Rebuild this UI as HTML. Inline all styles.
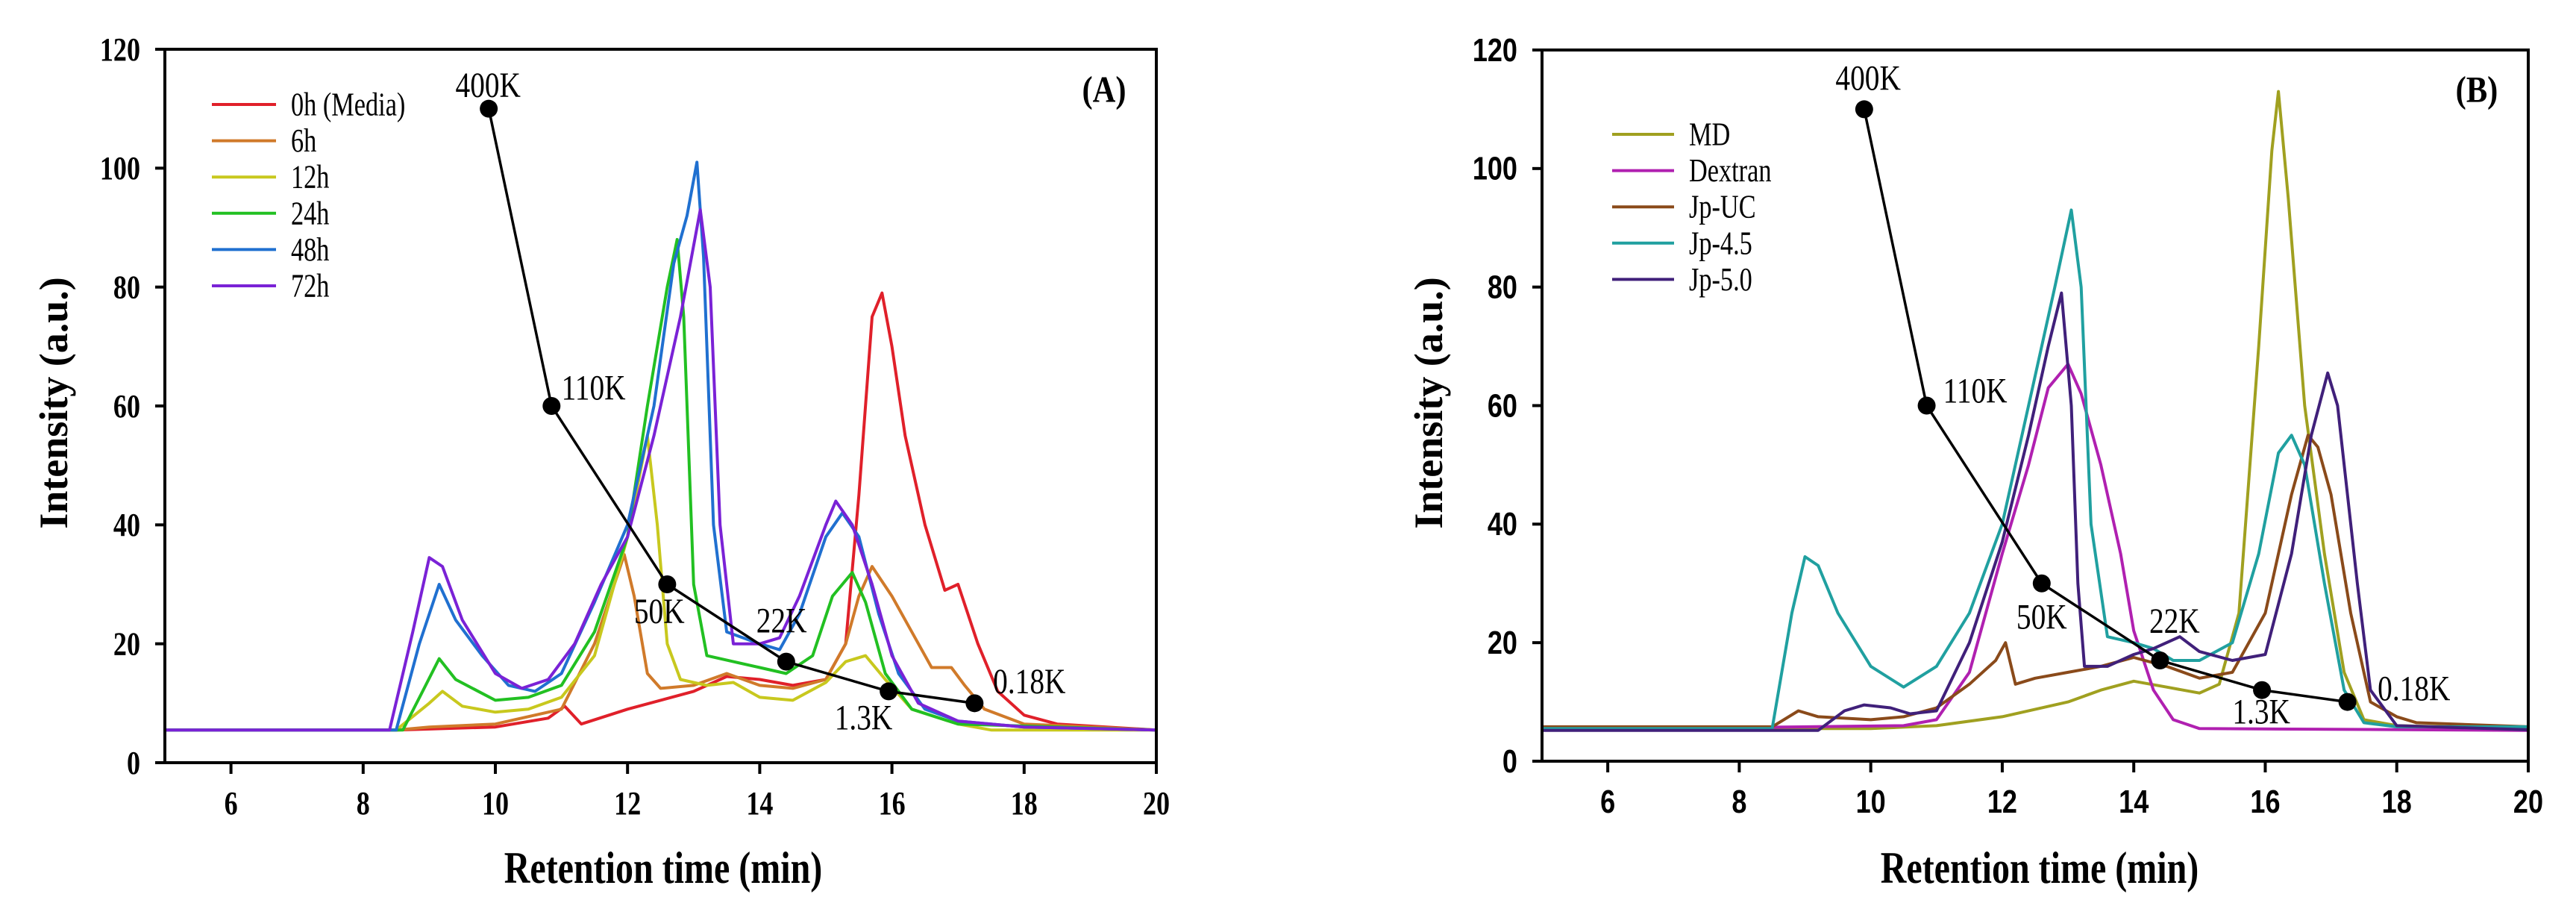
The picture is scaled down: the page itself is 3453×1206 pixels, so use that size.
<!DOCTYPE html>
<html><head><meta charset="utf-8"><style>html,body{margin:0;padding:0;background:#fff}svg{display:block}</style></head>
<body>
<svg id="fig" width="3453" height="1206" viewBox="0 0 3453 1206" xmlns="http://www.w3.org/2000/svg"></svg>
<script>
// ===== Data: panel A =====
const xTicks = [6, 8, 10, 12, 14, 16, 18, 20];
const yTicks = [0, 20, 40, 60, 80, 100, 120];
const aNames = ["0h (Media)", "6h", "12h", "24h", "48h", "72h"];
const a0hT = [5,8.5,10,10.8,11.05,11.3,12,13,13.5,14,14.5,15,15.3,15.5,15.7,15.85,16,16.2,16.5,16.8,17,17.3,17.6,18,18.5,20];
const a0hV = [5.5,5.5,6,7.5,9.5,6.5,9,12,14.5,14,13,14,20,45,75,79,70,55,40,29,30,20,12,8,6.5,5.5];
const a6hT = [5,8.5,9,10,11,11.5,11.8,11.95,12.1,12.3,12.5,13,13.5,14,14.5,15,15.3,15.5,15.7,16,16.3,16.6,16.9,17.1,17.4,18,20];
const a6hV = [5.5,5.5,6,6.5,9,20,30,35,28,15,12.5,13,15,13,12.5,14,20,28,33,28,22,16,16,13,9,6.5,5.5];
const a12hT = [5,8.5,9,9.2,9.5,10,10.5,11,11.5,12,12.3,12.45,12.6,12.8,13.2,13.6,14,14.5,15,15.3,15.6,15.9,16.3,17,17.5,20];
const a12hV = [5.5,5.5,10,12,9.5,8.5,9,11,18,38,55,40,20,14,13,13.5,11,10.5,13.5,17,18,14,9,6.5,5.5,5.5];
const a24hT = [5,8.6,8.9,9.15,9.4,10,10.5,11,11.5,12,12.3,12.6,12.75,12.85,13,13.2,13.6,14,14.4,14.8,15.1,15.4,15.6,15.9,16.3,17,20];
const a24hV = [5.5,5.5,12,17.5,14,10.5,11,13,22,38,60,80,88,75,30,18,17,16,15,18,28,32,27,15,9,6.5,5.5];
const a48hT = [5,8.5,8.85,9.15,9.4,9.8,10.2,10.6,11,11.5,12,12.4,12.7,12.9,13.05,13.15,13.3,13.5,14,14.3,14.6,15,15.25,15.5,15.8,16.1,16.5,17,18,20];
const a48hV = [5.5,5.5,20,30,24,18,13,12,15,27,40,60,84,92,101,85,40,22,20,19,25,38,42,38,25,15,9,7,6,5.5];
const a72hT = [5,8.4,8.75,9,9.2,9.5,10,10.4,10.8,11.2,11.6,12,12.4,12.8,13.1,13.25,13.4,13.6,14,14.3,14.6,15,15.15,15.4,15.7,16,16.4,17,18,20];
const a72hV = [5.5,5.5,22,34.5,33,24,15,12.5,14,20,30,38,55,75,93,80,40,20,20,21,28,40,44,40,30,18,10,7,6,5.5];
// ===== Data: panel B =====
const bNames = ["MD", "Dextran", "Jp-UC", "Jp-4.5", "Jp-5.0"];
const bMDT = [5,10,11,12,13,13.5,14,14.5,15,15.3,15.6,15.9,16.1,16.2,16.35,16.6,16.9,17.2,17.5,18,20];
const bMDV = [5.5,5.5,6,7.5,10,12,13.5,12.5,11.5,13,25,70,103,113,95,60,35,15,7,6,5.5];
const bDexT = [5,10.5,11,11.5,12,12.4,12.7,13,13.2,13.5,13.8,14,14.3,14.6,15,20];
const bDexV = [5.3,6,7,15,35,50,63,67,62,50,35,22,12,7,5.5,5.2];
const bUCT = [5,8.5,8.9,9.2,10,10.5,11,11.5,11.9,12.05,12.2,12.5,13,13.5,14,14.5,15,15.5,16,16.4,16.65,16.8,17,17.3,17.6,18,18.3,20];
const bUCV = [5.8,5.8,8.5,7.5,7,7.5,9,13,17,20,13,14,15,16,17.5,16,14,15,25,45,55,53,45,25,10,7.5,6.5,5.8];
const b45T = [5,8.5,8.8,9,9.2,9.5,10,10.5,11,11.5,12,12.5,12.8,13.05,13.2,13.35,13.6,14,14.3,14.6,15,15.5,15.9,16.2,16.4,16.6,16.9,17.2,17.5,18,20];
const b45V = [5.5,5.5,25,34.5,33,25,16,12.5,16,25,40,65,80,93,80,40,21,20,19,17,17,20,35,52,55,50,30,12,6.5,5.8,5.8];
const b50T = [5,9.2,9.6,9.9,10.3,10.6,11,11.5,12,12.4,12.7,12.9,13.05,13.15,13.25,13.6,14,14.3,14.7,15,15.5,16,16.4,16.7,16.95,17.1,17.4,17.6,18,20];
const b50V = [5.2,5.2,8.5,9.5,9,8,8.5,20,37,55,70,79,60,30,16,16,18,19,21,18.5,17,18,35,55,65.5,60,30,12,6,5.3];
// MW calibration markers (same for both panels)
const mwT = [9.9, 10.85, 12.6, 14.4, 15.95, 17.25];
const mwV = [110, 60, 30, 17, 12, 10];
const mwLabels = ["400K", "110K", "50K", "22K", "1.3K", "0.18K"];
const mwLabelAT = [9.89, 11.0, 12.48, 14.33, 15.57, 17.53];
const mwLabelAV = [113.9, 63, 25.4, 23.8, 7.5, 13.6];
const mwLabelBT = [9.96, 11.1, 12.6, 14.62, 15.94, 17.71];
const mwLabelBV = [115.2, 62.4, 24.3, 23.6, 8.3, 12.2];

const NS = "http://www.w3.org/2000/svg";
const svg = document.getElementById("fig");
function el(tag, attrs, parent) {
  const e = document.createElementNS(NS, tag);
  for (const k in attrs) e.setAttribute(k, attrs[k]);
  (parent || svg).appendChild(e);
  return e;
}
function txt(str, x, y, size, opts, parent) {
  const sx = opts.sx || 0.8;
  const t = el("text", {
    x: 0, y: 0,
    transform: "translate(" + x + "," + y + ")" + (opts.rot ? " rotate(" + opts.rot + ")" : "") + " scale(" + sx + ",1)",
    "font-size": size,
    "font-family": opts.family || '"Liberation Serif", serif',
    "font-weight": opts.bold ? "bold" : "normal",
    "text-anchor": opts.anchor || "start",
    "dominant-baseline": "central",
    fill: "#000"
  }, parent);
  t.textContent = str;
  return t;
}

function panel(cfg) {
  const g = el("g", {});
  
  
  const L = cfg.left, R = cfg.right, T = cfg.top, B = cfg.bottom;
  const X = v => L + (v - 5) / 15 * (R - L);
  const Y = v => B - v / 120 * (B - T);
  cfg.series.forEach((s, i) => {
    const pts = s.t.map((t, j) => X(t).toFixed(1) + "," + Y(s.v[j]).toFixed(1)).join(" ");
    const p = el("polyline", {points: pts, fill: "none", stroke: s.color, "stroke-width": 4, "stroke-linejoin": "round"}, g);
    
    
  });
  const mwPts = mwT.map((t, j) => X(t) + "," + Y(mwV[j])).join(" ");
  const ml = el("polyline", {points: mwPts, fill: "none", stroke: "#000", "stroke-width": 3.5}, g);
  
  
  mwT.forEach((t, j) => {
    const c = el("circle", {cx: X(t), cy: Y(mwV[j]), r: 12, fill: "#000"}, g);
    
    
    const anchor = (j === 1 || j === 5) ? "start" : "middle";
    const lt = txt(mwLabels[j], X(cfg.lt[j]), Y(cfg.lv[j]), 48, {anchor: anchor, sx: 0.82}, g);
    
    
  });
  const fr = el("rect", {x: L, y: T, width: R - L, height: B - T, fill: "none", stroke: "#000", "stroke-width": 4}, g);
  
  
  xTicks.forEach(v => {
    const tk = el("line", {x1: X(v), x2: X(v), y1: B, y2: B + 15, stroke: "#000", "stroke-width": 4}, g);
    
    
    const tl = txt(String(v), X(v), B + 54, 44, {anchor: "middle", bold: true, family: cfg.tickFamily, sx: 0.82}, g);
    
    
  });
  yTicks.forEach(v => {
    const tk = el("line", {x1: L - 13, x2: L, y1: Y(v), y2: Y(v), stroke: "#000", "stroke-width": 4}, g);
    
    
    const tl = txt(String(v), L - 33, Y(v), 44, {anchor: "end", bold: true, family: cfg.tickFamily, sx: 0.82}, g);
    
    
  });
  const xt = txt("Retention time (min)", cfg.xTitleX, 1163, 60, {anchor: "middle", bold: true, sx: 0.8}, g);
  
  
  const yt = txt("Intensity (a.u.)", cfg.yTitleX, 540, 54, {anchor: "middle", bold: true, rot: -90, sx: 1}, g);
  
  
  const pl = txt(cfg.label, cfg.labelX, 121, 50, {anchor: "middle", bold: true, sx: 0.85}, g);
  
  
  cfg.series.forEach((s, i) => {
    const y = cfg.legY + i * cfg.legStep;
    const ln = el("line", {x1: cfg.legX1, x2: cfg.legX2, y1: y, y2: y, stroke: s.color, "stroke-width": 4}, g);
    
    
    const lt = txt(s.label, cfg.legX2 + 20, y, 44, {sx: 0.78}, g);
    
    
  });
}

panel({
  name: "panel-a", left: 221, right: 1550, top: 66, bottom: 1022,
  tickFamily: '"Liberation Serif", serif', label: "(A)", labelX: 1480,
  xTitleX: 889, yTitleX: 72, lt: mwLabelAT, lv: mwLabelAV,
  legX1: 284, legX2: 370, legY: 140, legStep: 48.6,
  series: [
    {key: "0h", label: aNames[0], color: "#e0202a", t: a0hT, v: a0hV},
    {key: "6h", label: aNames[1], color: "#d07a2a", t: a6hT, v: a6hV},
    {key: "12h", label: aNames[2], color: "#c8c81e", t: a12hT, v: a12hV},
    {key: "24h", label: aNames[3], color: "#22c022", t: a24hT, v: a24hV},
    {key: "48h", label: aNames[4], color: "#2070d0", t: a48hT, v: a48hV},
    {key: "72h", label: aNames[5], color: "#7a22d6", t: a72hT, v: a72hV}
  ]
});
panel({
  name: "panel-b", left: 2067, right: 3389, top: 67, bottom: 1020,
  tickFamily: '"Liberation Sans", sans-serif', label: "(B)", labelX: 3320,
  xTitleX: 2734, yTitleX: 1915, lt: mwLabelBT, lv: mwLabelBV,
  legX1: 2161, legX2: 2244, legY: 180, legStep: 48.6,
  series: [
    {key: "md", label: bNames[0], color: "#a0a020", t: bMDT, v: bMDV},
    {key: "dextran", label: bNames[1], color: "#b020b0", t: bDexT, v: bDexV},
    {key: "jp-uc", label: bNames[2], color: "#8a4a1a", t: bUCT, v: bUCV},
    {key: "jp-4-5", label: bNames[3], color: "#20a0a0", t: b45T, v: b45V},
    {key: "jp-5-0", label: bNames[4], color: "#40207a", t: b50T, v: b50V}
  ]
});
</script>
</body></html>
